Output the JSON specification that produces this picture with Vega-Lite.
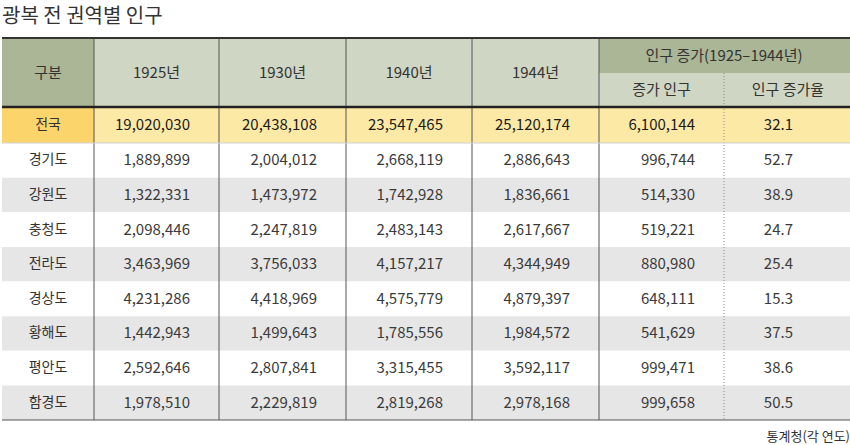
{
  "$schema": "https://vega.github.io/schema/vega-lite/v6.json",
  "width": 850,
  "height": 407,
  "padding": {"top": 7, "left": 0, "right": 0, "bottom": 0},
  "autosize": {"type": "pad"},
  "title": {"text": "광복 전 권역별 인구", "anchor": "start", "frame": "group", "fontSize": 20, "font": "Noto Sans CJK KR", "fontWeight": "normal", "color": "#333333", "baseline": "top", "offset": 10},
  "config": {"view": {"stroke": null}},
  "datasets": {
    "headers": [
      {"label": "구분", "c0": 0, "c1": 1, "r0": 0, "r1": 2, "tone": "dark"},
      {"label": "1925년", "c0": 1, "c1": 2, "r0": 0, "r1": 2, "tone": "light"},
      {"label": "1930년", "c0": 2, "c1": 3, "r0": 0, "r1": 2, "tone": "light"},
      {"label": "1940년", "c0": 3, "c1": 4, "r0": 0, "r1": 2, "tone": "light"},
      {"label": "1944년", "c0": 4, "c1": 5, "r0": 0, "r1": 2, "tone": "light"},
      {"label": "인구 증가(1925–1944년)", "c0": 5, "c1": 7, "r0": 0, "r1": 1, "tone": "dark"},
      {"label": "증가 인구", "c0": 5, "c1": 6, "r0": 1, "r1": 2, "tone": "light"},
      {"label": "인구 증가율", "c0": 6, "c1": 7, "r0": 1, "r1": 2, "tone": "light"}
    ],
    "population": [
      {"구분": "전국", "1925년": 19020030, "1930년": 20438108, "1940년": 23547465, "1944년": 25120174, "증가 인구": 6100144, "인구 증가율": 32.1},
      {"구분": "경기도", "1925년": 1889899, "1930년": 2004012, "1940년": 2668119, "1944년": 2886643, "증가 인구": 996744, "인구 증가율": 52.7},
      {"구분": "강원도", "1925년": 1322331, "1930년": 1473972, "1940년": 1742928, "1944년": 1836661, "증가 인구": 514330, "인구 증가율": 38.9},
      {"구분": "충청도", "1925년": 2098446, "1930년": 2247819, "1940년": 2483143, "1944년": 2617667, "증가 인구": 519221, "인구 증가율": 24.7},
      {"구분": "전라도", "1925년": 3463969, "1930년": 3756033, "1940년": 4157217, "1944년": 4344949, "증가 인구": 880980, "인구 증가율": 25.4},
      {"구분": "경상도", "1925년": 4231286, "1930년": 4418969, "1940년": 4575779, "1944년": 4879397, "증가 인구": 648111, "인구 증가율": 15.3},
      {"구분": "황해도", "1925년": 1442943, "1930년": 1499643, "1940년": 1785556, "1944년": 1984572, "증가 인구": 541629, "인구 증가율": 37.5},
      {"구분": "평안도", "1925년": 2592646, "1930년": 2807841, "1940년": 3315455, "1944년": 3592117, "증가 인구": 999471, "인구 증가율": 38.6},
      {"구분": "함경도", "1925년": 1978510, "1930년": 2229819, "1940년": 2819268, "1944년": 2978168, "증가 인구": 999658, "인구 증가율": 50.5}
    ]
  },
  "layer": [
    {
      "data": {"name": "headers"},
      "mark": {"type": "rect"},
      "encoding": {
        "x": {"field": "c0", "type": "quantitative", "axis": null, "scale": {"type": "linear", "domain": [0, 1, 2, 3, 4, 5, 6, 7], "range": [0, 92, 217, 344, 470, 597, 722, 850], "nice": false, "zero": false}},
        "x2": {"field": "c1"},
        "y": {"field": "r0", "type": "quantitative", "axis": null, "scale": {"type": "linear", "domain": [0, 1, 2, 3, 11], "range": [0, 35, 69, 105, 382], "nice": false, "zero": false}},
        "y2": {"field": "r1"},
        "fill": {"field": "tone", "type": "nominal", "legend": null, "scale": {"domain": ["dark", "light", "total", "label", "white", "gray"], "range": ["#aab696", "#cfd7c4", "#fde9a6", "#fcd46c", "#ffffff", "#e6e6e6"]}}
      }
    },
    {
      "data": {"name": "population"},
      "transform": [
        {"window": [{"op": "row_number", "as": "n"}]},
        {"calculate": "datum.n + 1", "as": "r0"},
        {"calculate": "datum.n + 2", "as": "r1"},
        {"calculate": "datum.n == 1 ? 'total' : (datum.n % 2 == 0 ? 'white' : 'gray')", "as": "tone"}
      ],
      "mark": {"type": "rect"},
      "encoding": {
        "x": {"datum": 0, "type": "quantitative", "axis": null, "scale": {"type": "linear", "domain": [0, 1, 2, 3, 4, 5, 6, 7], "range": [0, 92, 217, 344, 470, 597, 722, 850], "nice": false, "zero": false}},
        "x2": {"datum": 7},
        "y": {"field": "r0", "type": "quantitative", "axis": null, "scale": {"type": "linear", "domain": [0, 1, 2, 3, 11], "range": [0, 35, 69, 105, 382], "nice": false, "zero": false}},
        "y2": {"field": "r1"},
        "fill": {"field": "tone", "type": "nominal", "legend": null, "scale": {"domain": ["dark", "light", "total", "label", "white", "gray"], "range": ["#aab696", "#cfd7c4", "#fde9a6", "#fcd46c", "#ffffff", "#e6e6e6"]}}
      }
    },
    {
      "data": {"name": "population"},
      "transform": [
        {"filter": "datum['구분'] == '전국'"},
        {"calculate": "'label'", "as": "tone"}
      ],
      "mark": {"type": "rect"},
      "encoding": {
        "x": {"datum": 0, "type": "quantitative"},
        "x2": {"datum": 1},
        "y": {"datum": 2, "type": "quantitative"},
        "y2": {"datum": 3},
        "fill": {"field": "tone", "type": "nominal", "legend": null, "scale": {"domain": ["dark", "light", "total", "label", "white", "gray"], "range": ["#aab696", "#cfd7c4", "#fde9a6", "#fcd46c", "#ffffff", "#e6e6e6"]}}
      }
    },
    {
      "data": {"name": "headers"},
      "transform": [{"filter": "datum.c1 <= 5"}],
      "mark": {"type": "rule", "stroke": "#555555", "strokeWidth": 1},
      "encoding": {
        "x": {"field": "c1", "type": "quantitative"},
        "y": {"datum": 0, "type": "quantitative"},
        "y2": {"datum": 11}
      }
    },
    {
      "data": {"name": "headers"},
      "transform": [{"filter": "datum.label == '증가 인구'"}],
      "mark": {"type": "rule", "stroke": "#8a8a8a", "strokeWidth": 1, "strokeDash": [1, 2]},
      "encoding": {
        "x": {"field": "c1", "type": "quantitative"},
        "y": {"field": "r0", "type": "quantitative"},
        "y2": {"datum": 11}
      }
    },
    {
      "data": {"values": [{"line": "top"}]},
      "mark": {"type": "rule", "stroke": "#333333", "strokeWidth": 2},
      "encoding": {"x": {"datum": 0, "type": "quantitative"}, "x2": {"datum": 7}, "y": {"datum": 0, "type": "quantitative"}}
    },
    {
      "data": {"values": [{"line": "header"}]},
      "mark": {"type": "rule", "stroke": "#222222", "strokeWidth": 2.5},
      "encoding": {"x": {"datum": 0, "type": "quantitative"}, "x2": {"datum": 7}, "y": {"datum": 2, "type": "quantitative"}}
    },
    {
      "data": {"values": [{"line": "total"}]},
      "mark": {"type": "rule", "stroke": "#d0d0d0", "strokeWidth": 1},
      "encoding": {"x": {"datum": 0, "type": "quantitative"}, "x2": {"datum": 7}, "y": {"datum": 3, "type": "quantitative"}}
    },
    {
      "data": {"values": [{"line": "bottom"}]},
      "mark": {"type": "rule", "stroke": "#555555", "strokeWidth": 1},
      "encoding": {"x": {"datum": 0, "type": "quantitative"}, "x2": {"datum": 7}, "y": {"datum": 11, "type": "quantitative"}}
    },
    {
      "data": {"name": "headers"},
      "transform": [
        {"calculate": "(datum.c0 + datum.c1) / 2", "as": "cm"},
        {"calculate": "(datum.r0 + datum.r1) / 2", "as": "rm"}
      ],
      "mark": {"type": "text", "font": "Noto Sans CJK KR", "fontSize": 15, "color": "#333333", "align": "center", "baseline": "middle"},
      "encoding": {
        "x": {"field": "cm", "type": "quantitative"},
        "y": {"field": "rm", "type": "quantitative"},
        "text": {"field": "label"}
      }
    },
    {
      "data": {"name": "population"},
      "transform": [
        {"window": [{"op": "row_number", "as": "n"}]},
        {"calculate": "datum.n + 1.5", "as": "rm"}
      ],
      "mark": {"type": "text", "font": "Noto Sans CJK KR", "fontSize": 14, "color": "#333333", "align": "center", "baseline": "middle"},
      "encoding": {
        "x": {"datum": 0.5, "type": "quantitative"},
        "y": {"field": "rm", "type": "quantitative"},
        "text": {"field": "구분"}
      }
    },
    {
      "data": {"name": "population"},
      "transform": [
        {"window": [{"op": "row_number", "as": "n"}]},
        {"calculate": "datum.n + 1.5", "as": "rm"},
        {"fold": ["1925년", "1930년", "1940년", "1944년", "증가 인구"], "as": ["col", "v"]},
        {"lookup": "col", "from": {"data": {"name": "headers"}, "key": "label", "fields": ["c1"]}}
      ],
      "mark": {"type": "text", "font": "Noto Sans CJK KR", "fontSize": 15, "align": "right", "baseline": "middle", "dx": -29},
      "encoding": {
        "x": {"field": "c1", "type": "quantitative"},
        "y": {"field": "rm", "type": "quantitative"},
        "text": {"field": "v", "type": "quantitative", "format": ","},
        "color": {"condition": {"test": "datum.n == 1", "value": "#1a1a1a"}, "value": "#3a3a3a"}
      }
    },
    {
      "data": {"name": "population"},
      "transform": [
        {"window": [{"op": "row_number", "as": "n"}]},
        {"calculate": "datum.n + 1.5", "as": "rm"}
      ],
      "mark": {"type": "text", "font": "Noto Sans CJK KR", "fontSize": 15, "align": "right", "baseline": "middle", "dx": -59},
      "encoding": {
        "x": {"datum": 7, "type": "quantitative"},
        "y": {"field": "rm", "type": "quantitative"},
        "text": {"field": "인구 증가율", "type": "quantitative", "format": ".1f"},
        "color": {"condition": {"test": "datum.n == 1", "value": "#1a1a1a"}, "value": "#3a3a3a"}
      }
    },
    {
      "data": {"values": [{"note": "통계청(각 연도)"}]},
      "mark": {"type": "text", "font": "Noto Sans CJK KR", "fontSize": 13, "color": "#333333", "align": "right", "baseline": "middle", "dx": -2},
      "encoding": {
        "x": {"datum": 7, "type": "quantitative"},
        "y": {"datum": 11.5, "type": "quantitative"},
        "text": {"field": "note"}
      }
    }
  ]
}
